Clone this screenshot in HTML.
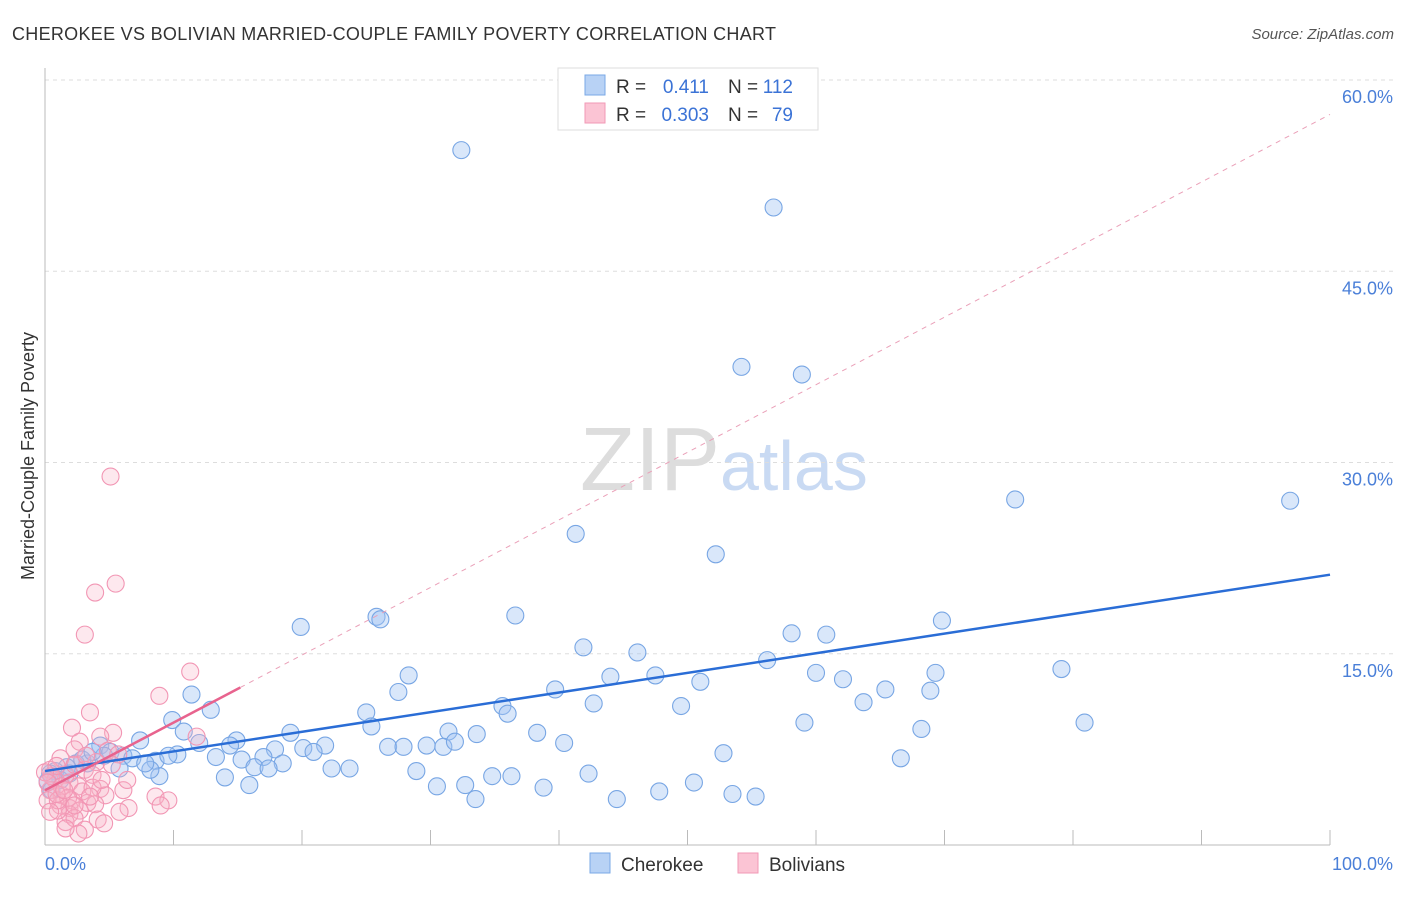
<!DOCTYPE html>
<html><head><meta charset="utf-8"><style>
body{margin:0;background:#fff;font-family:"Liberation Sans",sans-serif}
svg text{font-family:"Liberation Sans",sans-serif}
</style></head><body>
<svg id="c" width="1406" height="892" xmlns="http://www.w3.org/2000/svg">
<text x="12" y="40" font-size="18" fill="#333" textLength="764">CHEROKEE VS BOLIVIAN MARRIED-COUPLE FAMILY POVERTY CORRELATION CHART</text>
<text x="1394" y="39" font-size="15" fill="#555" text-anchor="end" font-style="italic">Source: ZipAtlas.com</text>
<text x="720" y="490" font-size="90" fill="#ddd" text-anchor="end" font-family="Liberation Serif">ZIP</text>
<text x="720" y="490" font-size="70" fill="#c9daf3">atlas</text>
<g id="grid"></g><g id="pts"></g><g id="lines"></g>
<text transform="translate(34,456) rotate(-90)" font-size="18" fill="#333" text-anchor="middle">Married-Couple Family Poverty</text>
<g>
<rect x="558" y="68" width="260" height="62" fill="#fff" stroke="#ddd"/>
<rect x="585" y="75" width="20" height="20" fill="#b8d2f5" stroke="#7aa8e6"/>
<rect x="585" y="103" width="20" height="20" fill="#fbc4d4" stroke="#f199b6"/>
<text x="616" y="93" font-size="19" fill="#333">R =</text>
<text x="709" y="93" font-size="19" fill="#3b73d6" text-anchor="end">0.411</text>
<text x="728" y="93" font-size="19" fill="#333">N =</text>
<text x="793" y="93" font-size="19" fill="#3b73d6" text-anchor="end">112</text>
<text x="616" y="121" font-size="19" fill="#333">R =</text>
<text x="709" y="121" font-size="19" fill="#3b73d6" text-anchor="end">0.303</text>
<text x="728" y="121" font-size="19" fill="#333">N =</text>
<text x="793" y="121" font-size="19" fill="#3b73d6" text-anchor="end">79</text>
</g>
<g>
<rect x="590" y="853" width="20" height="20" fill="#b8d2f5" stroke="#7aa8e6"/>
<text x="621" y="871" font-size="19" fill="#333">Cherokee</text>
<rect x="738" y="853" width="20" height="20" fill="#fbc4d4" stroke="#f199b6"/>
<text x="769" y="871" font-size="19" fill="#333">Bolivians</text>
</g>
</svg>
<script>
const yTicks=[15,30,45,60];
const xTickLabels=["0.0%","100.0%"];
const cherX=[32.4,56.7,54.2,58.9,75.5,96.9,41.3,52.2,25.8,26.1,36.6,19.9,58.1,60.8,69.8,41.9,46.1,56.2,79.1,28.3,44.0,47.5,60.0,62.1,69.3,51.0,65.4,27.5,39.7,11.4,12.9,35.6,42.7,49.5,63.7,68.9,9.9,36.0,25.0,25.4,59.1,80.9,10.8,19.1,31.4,33.6,38.3,68.2,7.4,12.0,14.9,14.4,21.8,20.1,20.9,26.7,27.9,29.7,31.0,31.9,40.4,4.3,5.1,10.3,13.3,17.9,17.0,8.6,6.1,9.6,6.8,18.5,15.3,16.3,17.4,22.3,23.7,28.9,66.6,52.8,3.3,2.4,1.7,0.8,0.4,5.8,8.9,14.0,15.9,34.8,36.3,42.3,30.5,32.7,50.5,38.8,47.8,53.5,55.3,33.5,44.5,1.2,1.9,0.2,0.5,2.9,4.6,3.7,8.2,7.8];
const cherY=[54.5,50.0,37.5,36.9,27.1,27.0,24.4,22.8,17.9,17.7,18.0,17.1,16.6,16.5,17.6,15.5,15.1,14.5,13.8,13.3,13.2,13.3,13.5,13.0,13.5,12.8,12.2,12.0,12.2,11.8,10.6,10.9,11.1,10.9,11.2,12.1,9.8,10.3,10.4,9.3,9.6,9.6,8.9,8.8,8.9,8.7,8.8,9.1,8.2,8.0,8.2,7.8,7.8,7.6,7.3,7.7,7.7,7.8,7.7,8.1,8.0,7.8,7.3,7.1,6.9,7.5,6.9,6.6,7.0,7.0,6.8,6.4,6.7,6.1,6.0,6.0,6.0,5.8,6.8,7.2,6.4,6.4,6.1,5.8,5.6,6.0,5.4,5.3,4.7,5.4,5.4,5.6,4.6,4.7,4.9,4.5,4.2,4.0,3.8,3.6,3.6,5.1,5.6,5.0,4.3,6.7,7.0,7.3,5.9,6.4];
const bolX=[5.1,5.5,3.9,3.1,11.3,8.9,3.5,2.1,11.8,5.3,2.7,4.3,2.3,4.9,5.7,1.2,4.0,3.1,3.7,1.6,0.4,0.8,1.9,2.6,4.3,4.7,1.3,2.1,3.3,3.9,1.2,1.9,2.7,8.6,9.6,9.0,6.5,5.8,4.1,1.9,1.6,2.3,3.1,2.6,4.6,0.4,0.2,1.0,1.6,0.5,0.9,0.0,0.2,1.3,2.9,3.7,4.4,2.3,3.2,5.2,6.1,6.4,1.8,1.0,0.4,2.3,3.5,0.9,1.5];
const bolY=[28.9,20.5,19.8,16.5,13.6,11.7,10.4,9.2,8.5,8.8,8.1,8.5,7.5,7.4,7.1,6.8,6.5,5.9,5.5,5.5,5.9,5.1,4.9,4.6,4.4,3.9,3.9,3.5,3.3,3.2,3.1,2.9,2.7,3.8,3.5,3.1,2.9,2.6,2.0,2.4,1.8,2.1,1.2,0.9,1.7,4.3,3.5,2.7,1.3,5.4,6.2,5.7,4.9,4.6,4.2,4.5,5.1,6.3,7.0,6.3,4.3,5.1,3.7,3.5,2.6,3.1,3.8,4.0,4.3];
const cherTrend=[5.8,0.154];
const bolTrend=[4.3,0.53];
const bolSolidMax=15.2;

const X=v=>45+v*12.85, Y=v=>845-v*12.75;
const NS="http://www.w3.org/2000/svg";
function mk(tag,attrs,parent){const e=document.createElementNS(NS,tag);for(const k in attrs)e.setAttribute(k,attrs[k]);parent.appendChild(e);return e;}
const grid=document.getElementById('grid');
yTicks.forEach(t=>{
 const l=mk('line',{x1:45,x2:1394,y1:Y(t),y2:Y(t),stroke:'#ddd','stroke-dasharray':'4,4'},grid);
 
 
 const tx=mk('text',{x:1393,y:Y(t)+23,'font-size':18,fill:'#4a7fd8','text-anchor':'end'},grid);
 tx.textContent=t.toFixed(1)+'%';
 
 
});
const ax=mk('line',{x1:45,x2:1330,y1:845,y2:845,stroke:'#bbb'},grid);


const ay=mk('line',{x1:45,x2:45,y1:68,y2:845,stroke:'#bbb'},grid);


for(let i=1;i<=10;i++){const t=mk('line',{x1:X(i*10),x2:X(i*10),y1:830,y2:845,stroke:'#bbb'},grid);
 
 }
[[0,'start',45],[1,'end',1393]].forEach(([i,a,x])=>{const t=mk('text',{x:x,y:870,'font-size':18,fill:'#4a7fd8','text-anchor':a},grid);t.textContent=xTickLabels[i];
 
 });
const pts=document.getElementById('pts');
cherX.forEach((v,i)=>{const c=mk('circle',{cx:X(v),cy:Y(cherY[i]),r:8.5,fill:'rgba(160,196,242,0.4)',stroke:'#78a6e4','stroke-width':1.1},pts);
 
 });
bolX.forEach((v,i)=>{const c=mk('circle',{cx:X(v),cy:Y(bolY[i]),r:8.5,fill:'rgba(248,180,200,0.3)',stroke:'#f296b4','stroke-width':1.1},pts);
 
 });
const lines=document.getElementById('lines');
const bt=v=>bolTrend[0]+bolTrend[1]*v, ct=v=>cherTrend[0]+cherTrend[1]*v;
const d=mk('line',{x1:X(bolSolidMax),y1:Y(bt(bolSolidMax)),x2:X(100),y2:Y(bt(100)),stroke:'#eaa0b8','stroke-dasharray':'5,5','stroke-width':1},lines);


const cl=mk('line',{x1:X(0),y1:Y(ct(0)),x2:X(100),y2:Y(ct(100)),stroke:'#2a6dd6','stroke-width':2.5},lines);


const bl=mk('line',{x1:X(0),y1:Y(bt(0)),x2:X(bolSolidMax),y2:Y(bt(bolSolidMax)),stroke:'#e8638e','stroke-width':2.5},lines);


</script>
</body></html>
